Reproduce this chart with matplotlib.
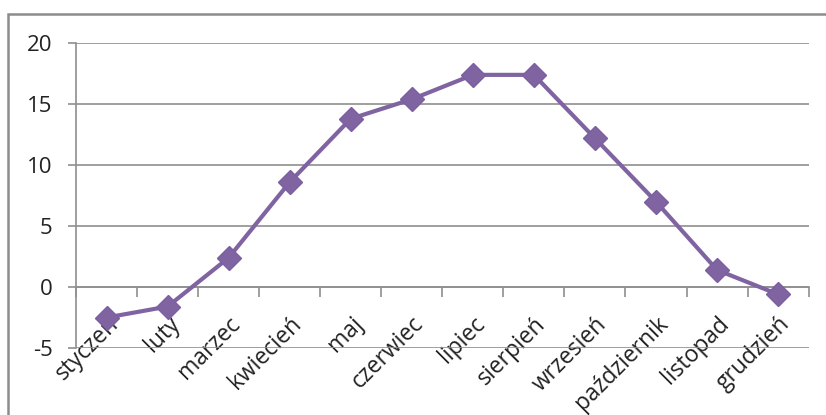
import matplotlib.pyplot as plt
from matplotlib.patches import Rectangle

months = ['styczeń', 'luty', 'marzec', 'kwiecień', 'maj', 'czerwiec',
          'lipiec', 'sierpień', 'wrzesień', 'październik', 'listopad', 'grudzień']
temps = [-2.5, -1.6, 2.4, 8.6, 13.8, 15.4, 17.4, 17.4, 12.2, 7.0, 1.4, -0.6]
yticks = [-5, 0, 5, 10, 15, 20]

plt.rcParams['font.family'] = ['Open Sans', 'DejaVu Sans']
plt.rcParams['axes.unicode_minus'] = False

fig = plt.figure(figsize=(8.26, 4.15), dpi=100)
ax = fig.add_axes([0.092, 0.1614, 0.887, 0.7346])

# outer chart frame (runs off the right and bottom of the picture)
fig.patches.append(Rectangle((8 / 826, -0.2), 1.2, 1.2 - 14 / 415, transform=fig.transFigure,
                             fill=False, edgecolor='#8c8c8c', linewidth=1.8))

x = [i + 0.5 for i in range(len(months))]
ax.plot(x, temps, color='#8064A2', linewidth=3, marker='D', markersize=12,
        markeredgecolor='#7b5fa0', zorder=3, clip_on=False)

ax.set_xlim(0, len(months))
ax.set_ylim(-5, 20)
ax.set_yticks(yticks)
ax.grid(axis='y', color='#8f8f8f', linewidth=1.2)
ax.set_axisbelow(True)

for s in ['top', 'right']:
    ax.spines[s].set_visible(False)
ax.spines['left'].set_color('#8f8f8f')
ax.spines['left'].set_linewidth(1.2)
ax.spines['bottom'].set_position(('data', 0))
ax.spines['bottom'].set_color('#8f8f8f')
ax.spines['bottom'].set_linewidth(1.2)

ax.tick_params(axis='y', direction='out', length=6, width=1.2, color='#8f8f8f',
               pad=11, labelsize=16, labelcolor='#222222')
ax.set_xticks(range(len(months) + 1), minor=True)
ax.tick_params(axis='x', which='minor', direction='out', length=7, width=1.2, color='#8f8f8f')
ax.set_xticks(x)
ax.set_xticklabels(months, rotation=45, ha='right', va='top', rotation_mode='anchor')
ax.tick_params(axis='x', which='major', length=0, pad=18, labelsize=16.5, labelcolor='#222222')

fig.savefig('out.png', dpi=100)
